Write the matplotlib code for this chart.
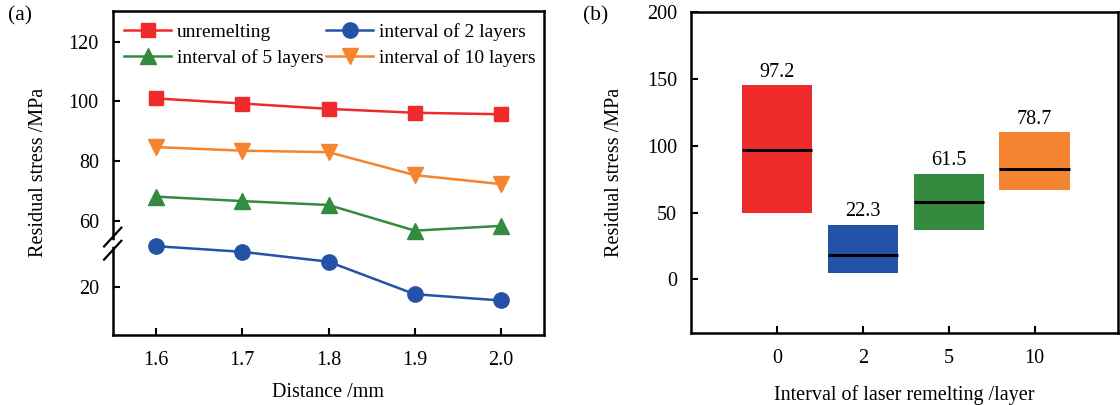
import numpy as np
import matplotlib
matplotlib.use("Agg")
import matplotlib.pyplot as plt
from matplotlib.transforms import blended_transform_factory

plt.rcParams["font.family"] = ["Liberation Serif", "DejaVu Serif"]
plt.rcParams["font.size"] = 14.5

# ---------------- data: panel (a) ----------------
distance = [1.6, 1.7, 1.8, 1.9, 2.0]
unremelting = [101.0, 99.3, 97.5, 96.2, 95.7]
interval_2 = [33.8, 31.9, 28.6, 17.7, 15.6]
interval_5 = [68.1, 66.6, 65.3, 56.7, 58.3]
interval_10 = [84.7, 83.5, 83.0, 75.3, 72.3]

# ---------------- data: panel (b) ----------------
intervals = ["0", "2", "5", "10"]
box_low = [49.3, 5.0, 36.8, 67.2]
box_high = [145.5, 41.0, 78.9, 110.2]
box_mid = [97.2, 18.4, 57.7, 82.8]
box_text = ["97.2", "22.3", "61.5", "78.7"]

RED = "#EE2A2A"
BLUE = "#2452A6"
GREEN = "#348A3E"
ORANGE = "#F4842F"
box_colors = [RED, BLUE, GREEN, ORANGE]

# broken y axis for panel (a): lower part shifted up, gap compressed
LOW, HIGH, OFF = 34.5, 52.5, 17.7


def fwd(v):
    v = np.asarray(v, dtype=float)
    mid = (LOW + OFF) + (v - LOW) * (HIGH - LOW - OFF) / (HIGH - LOW)
    return np.where(v <= LOW, v + OFF, np.where(v >= HIGH, v, mid))


def inv(d):
    d = np.asarray(d, dtype=float)
    mid = LOW + (d - LOW - OFF) * (HIGH - LOW) / (HIGH - LOW - OFF)
    return np.where(d <= LOW + OFF, d - OFF, np.where(d >= HIGH, d, mid))


fig = plt.figure(figsize=(11.2, 4.05), dpi=100)
W, H = 1120, 405
ax1 = fig.add_axes([112.7 / W, 1 - 334.5 / H, (544.3 - 112.7) / W, (334.5 - 11) / H])
ax2 = fig.add_axes([691 / W, 1 - 332.7 / H, (1118 - 691) / W, (332.7 - 12.3) / H])

for ax in (ax1, ax2):
    for sp in ax.spines.values():
        sp.set_linewidth(1.8)
    ax.tick_params(direction="in", length=5, width=1.5, pad=10)
    ax.tick_params(axis="x", pad=12)

# ---------------- panel (a) ----------------
ax1.set_yscale("function", functions=(fwd, inv))
lw = 1.8
ax1.plot(distance, unremelting, "-s", color=RED, lw=lw, ms=10, label="unremelting")
ax1.plot(distance, interval_5, "-^", color=GREEN, lw=lw, ms=11, label="interval of 5 layers")
ax1.plot(distance, interval_2, "-o", color=BLUE, lw=lw, ms=11, label="interval of 2 layers")
ax1.plot(distance, interval_10, "-v", color=ORANGE, lw=lw, ms=11, label="interval of 10 layers")

ax1.set_xlim(1.55, 2.05)
ax1.set_ylim(4.2, 130.3)
ax1.set_xticks(distance)
ax1.set_xticklabels(["1.6", "1.7", "1.8", "1.9", "2.0"])
ax1.set_yticks([20, 60, 80, 100, 120])
ax1.set_yticklabels(["20", "60", "80", "100", "120"])
ax1.minorticks_off()
ax1.set_xlabel("Distance /mm", labelpad=9)
ax1.set_ylabel("Residual stress /MPa")
ax1.yaxis.set_label_coords(-0.149, 0.5)

ax1.legend(loc="upper left", bbox_to_anchor=(0.0, 1.0), ncol=2, frameon=False,
           handlelength=2.4, handletextpad=0.3, columnspacing=0.15,
           labelspacing=0.45, borderaxespad=0.2, fontsize=14)

# axis-break marks on the left spine
tr = blended_transform_factory(ax1.transAxes, ax1.transData)
ybrk = (LOW + HIGH) / 2
ax1.plot([0, 0], [LOW + 1.0, HIGH - 1.0], color="white", lw=4, transform=tr,
         clip_on=False, zorder=5)
for dy in (-2.2, 2.2):
    ax1.plot([-0.02, 0.02], [ybrk + dy - 12, ybrk + dy + 12], color="black",
             lw=1.6, transform=tr, clip_on=False, zorder=6)

fig.text(8 / W, 1 - 16 / H, "(a)", ha="left", va="center", fontsize=15.5)

# ---------------- panel (b) ----------------
pos = np.arange(len(intervals))
width = 0.82
heights = [h - l for h, l in zip(box_high, box_low)]
ax2.bar(pos, heights, bottom=box_low, width=width, color=box_colors,
        edgecolor="none", zorder=2)
ax2.hlines(box_mid, pos - width / 2, pos + width / 2, colors="black", lw=2.2, zorder=3)
for x, top, t in zip(pos, box_high, box_text):
    ax2.annotate(t, (x, top), xytext=(0, 2.5), textcoords="offset points",
                 ha="center", va="bottom", fontsize=14.5)

ax2.set_xlim(-1.0, 3.97)
ax2.set_ylim(-40, 200)
ax2.set_xticks(pos)
ax2.set_xticklabels(intervals)
ax2.set_yticks([0, 50, 100, 150, 200])
ax2.set_xlabel("Interval of laser remelting /layer", labelpad=12)
ax2.set_ylabel("Residual stress /MPa")
ax2.yaxis.set_label_coords(-0.157, 0.5)

fig.text(583 / W, 1 - 16 / H, "(b)", ha="left", va="center", fontsize=15.5)

fig.savefig("out.png", dpi=100)
